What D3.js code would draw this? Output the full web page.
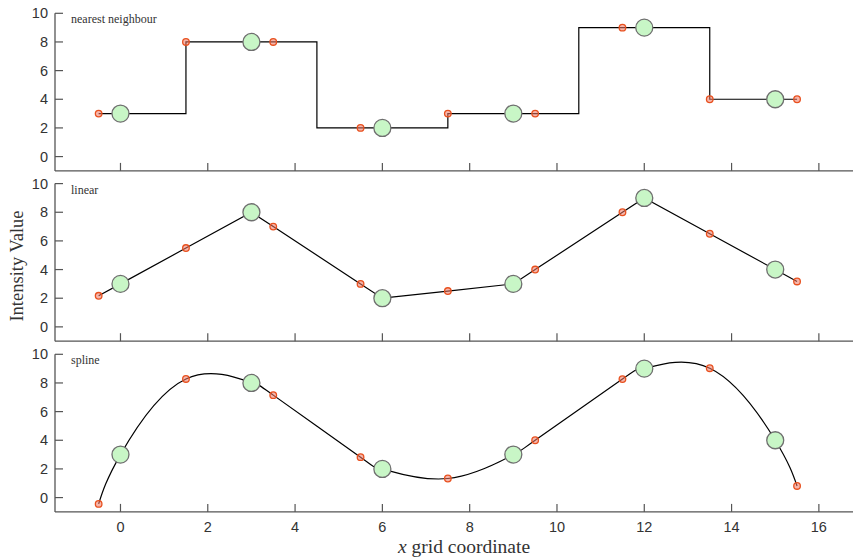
<!DOCTYPE html>
<html>
<head>
<meta charset="utf-8">
<script src="https://cdn.jsdelivr.net/npm/d3@7"></script>
<style>
  html, body { margin: 0; padding: 0; background: #fff; }
  svg { display: block; }
</style>
</head>
<body>
<svg id="chart" width="853" height="559"></svg>
<script>
// Original grid samples
const gridX = [0, 3, 6, 9, 12, 15];
const gridY = [3, 8, 2, 3, 9, 4];

// Resampled positions (half-way and beyond the ends)
const sampleX = [-0.5, 1.5, 3.5, 5.5, 7.5, 9.5, 11.5, 13.5, 15.5];
const nearestY = [3, 8, 8, 2, 3, 3, 9, 4, 4];
const linearY = [2.17, 5.5, 7, 3, 2.5, 4, 8, 6.5, 3.17];
const splineY = [-0.44, 8.28, 7.15, 2.82, 1.33, 4.0, 8.27, 9.03, 0.81];

const panelNames = ["nearest neighbour", "linear", "spline"];
const xTicks = [0, 2, 4, 6, 8, 10, 12, 14, 16];
const yTicks = [0, 2, 4, 6, 8, 10];

const svg = d3.select("#chart");
const W = 853;
const left = 55;
const panelTops = [13.3, 183.6, 354.3];
const panelH = 157.6; // from 10 down to -1

const x = d3.scaleLinear().domain([-1.5, 17]).range([left, left + 18.5 * 43.65]);

const axisColor = "#555";
const tickFont = "'Liberation Sans', Arial, sans-serif";
const serif = "'Liberation Serif', 'Times New Roman', serif";

function makeLinePoints(i) {
  if (i === 0) {
    // step through the grid points, padded to the sample extent
    const pts = [[sampleX[0], nearestY[0]]];
    gridX.forEach((g, k) => pts.push([g, gridY[k]]));
    pts.push([sampleX[sampleX.length - 1], nearestY[nearestY.length - 1]]);
    return { pts, curve: d3.curveStep };
  }
  const ys = i === 1 ? linearY : splineY;
  const pts = [];
  sampleX.forEach((s, k) => pts.push([s, ys[k]]));
  gridX.forEach((g, k) => pts.push([g, gridY[k]]));
  pts.sort((a, b) => a[0] - b[0]);
  return { pts, curve: i === 2 ? d3.curveNatural : d3.curveLinear };
}

const sampleSets = [nearestY, linearY, splineY];

panelNames.forEach((name, i) => {
  const top = panelTops[i];
  const y = d3.scaleLinear().domain([-1, 10]).range([top + panelH, top]);
  const g = svg.append("g");

  // spines
  g.append("line")
    .attr("x1", left).attr("x2", W)
    .attr("y1", y(-1)).attr("y2", y(-1))
    .attr("stroke", axisColor).attr("stroke-width", 1.3);
  g.append("line")
    .attr("x1", left).attr("x2", left)
    .attr("y1", y(-1)).attr("y2", y(10))
    .attr("stroke", axisColor).attr("stroke-width", 1.3);

  // y ticks pointing inward
  g.selectAll(".yt").data(yTicks).enter().append("line")
    .attr("x1", left).attr("x2", left + 8)
    .attr("y1", d => y(d)).attr("y2", d => y(d))
    .attr("stroke", axisColor).attr("stroke-width", 1.2);
  g.selectAll(".yl").data(yTicks).enter().append("text")
    .attr("x", left - 7).attr("y", d => y(d) + 5)
    .attr("text-anchor", "end")
    .attr("font-family", tickFont).attr("font-size", 14.5)
    .attr("fill", "#333")
    .text(d => d);

  // x ticks pointing inward
  g.selectAll(".xt").data(xTicks).enter().append("line")
    .attr("x1", d => x(d)).attr("x2", d => x(d))
    .attr("y1", y(-1)).attr("y2", y(-1) - 8)
    .attr("stroke", axisColor).attr("stroke-width", 1.2);
  if (i === 2) {
    g.selectAll(".xl").data(xTicks).enter().append("text")
      .attr("x", d => x(d)).attr("y", y(-1) + 20)
      .attr("text-anchor", "middle")
      .attr("font-family", tickFont).attr("font-size", 14.5)
      .attr("fill", "#333")
      .text(d => d);
  }

  // panel title
  g.append("text")
    .attr("x", 71).attr("y", top + 10)
    .attr("font-family", serif).attr("font-size", 12)
    .attr("fill", "#333")
    .text(name);

  // interpolated curve
  const lp = makeLinePoints(i);
  const line = d3.line().x(d => x(d[0])).y(d => y(d[1])).curve(lp.curve);
  g.append("path")
    .attr("d", line(lp.pts))
    .attr("fill", "none").attr("stroke", "#000").attr("stroke-width", 1.2);

  // original points
  g.selectAll(".orig").data(gridX.map((gx, k) => [gx, gridY[k]])).enter().append("circle")
    .attr("cx", d => x(d[0])).attr("cy", d => y(d[1]))
    .attr("r", 8.5)
    .attr("fill", "#c8f6c6").attr("stroke", "#6f6f6f").attr("stroke-width", 1.3);

  // resampled points
  const ys = sampleSets[i];
  g.selectAll(".samp").data(sampleX.map((sx, k) => [sx, ys[k]])).enter().append("circle")
    .attr("cx", d => x(d[0])).attr("cy", d => y(d[1]))
    .attr("r", 3.3)
    .attr("fill", "rgba(240,120,100,0.55)").attr("stroke", "#e8501e").attr("stroke-width", 1.3);
});

// axis titles
svg.append("text")
  .attr("transform", "translate(23,266) rotate(-90)")
  .attr("text-anchor", "middle")
  .attr("font-family", serif).attr("font-size", 18.5)
  .attr("fill", "#333")
  .text("Intensity Value");

const xl = svg.append("text")
  .attr("x", 464).attr("y", 553)
  .attr("text-anchor", "middle")
  .attr("font-family", serif).attr("font-size", 19.5)
  .attr("fill", "#333");
xl.append("tspan").attr("font-style", "italic").text("x");
xl.append("tspan").text(" grid coordinate");
</script>
</body>
</html>
